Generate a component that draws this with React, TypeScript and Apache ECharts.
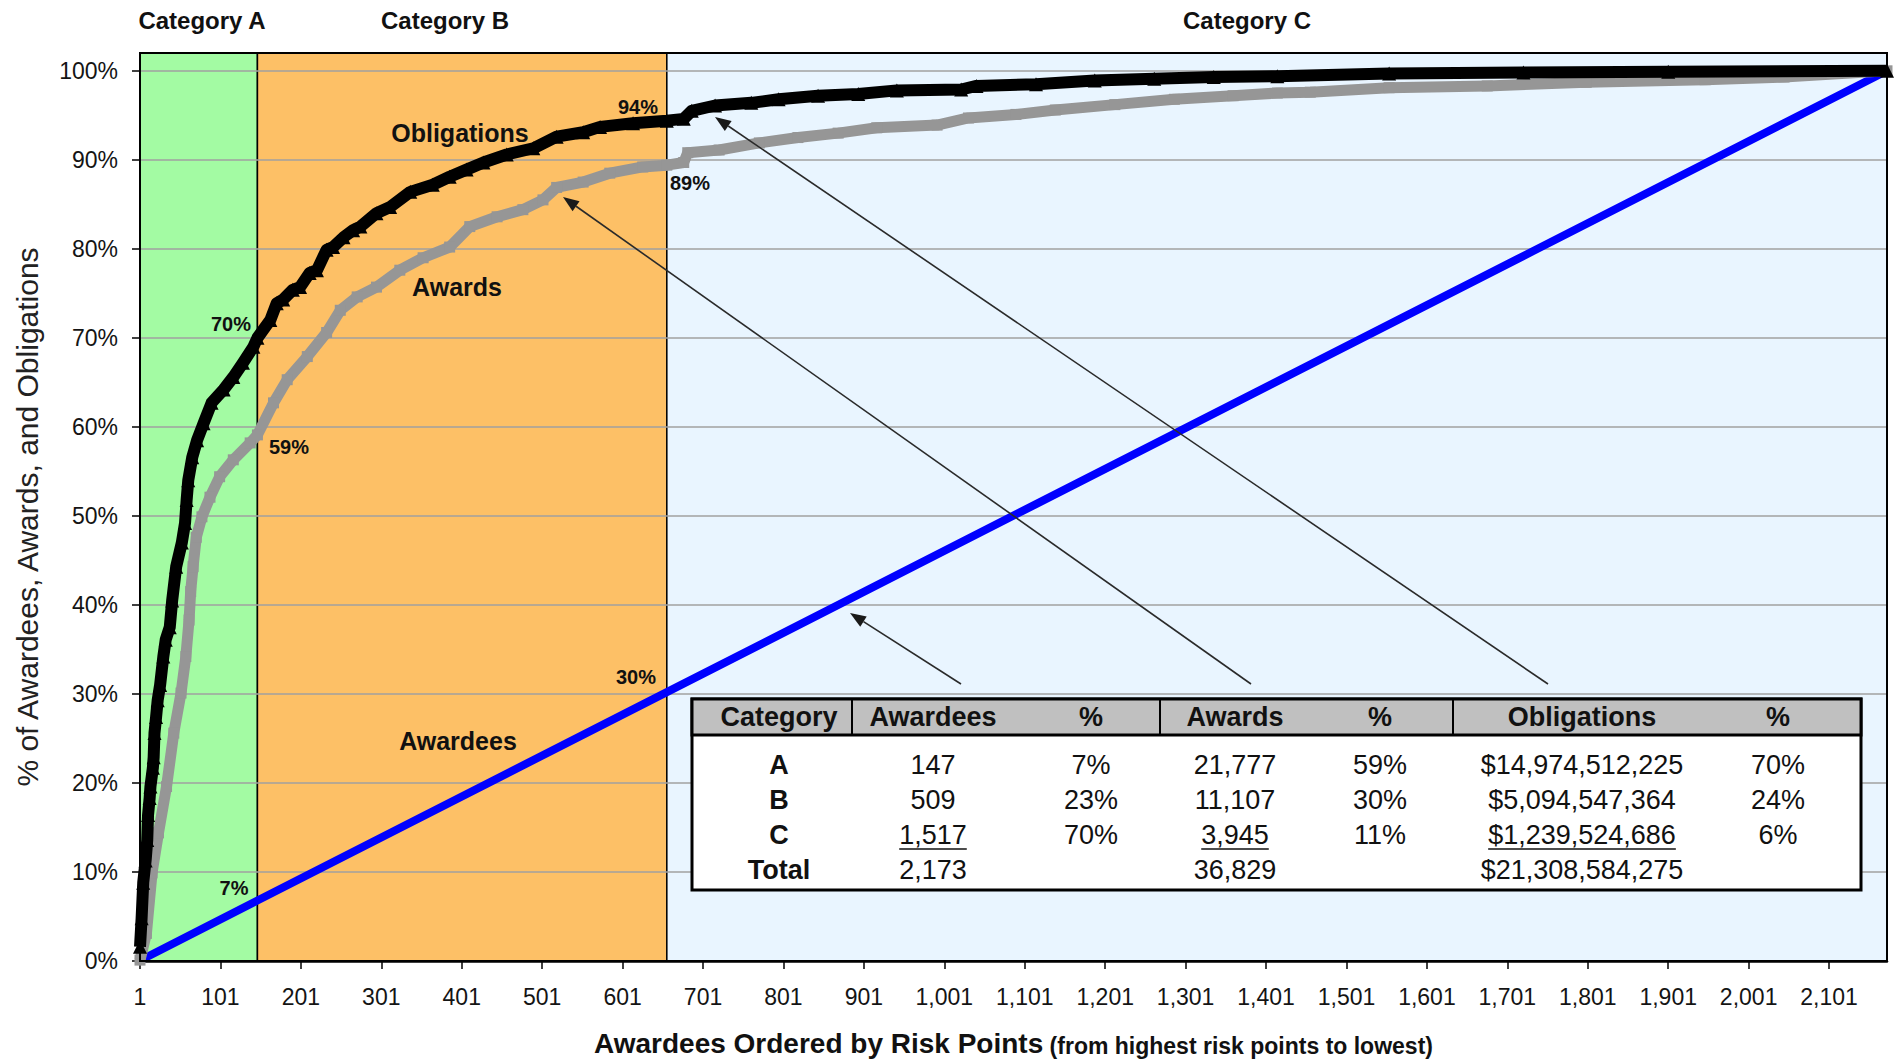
import React, { useEffect, useRef } from "react";
import * as echarts from "echarts";

const FONT = '"Liberation Sans", Arial, Helvetica, sans-serif';

// ---------------- data ----------------
const awardeeCount = 2173; // awardees ranked 1..2173
const xTickStep = 100;

const categoryLabels = ["Category A", "Category B", "Category C"];
const categoryLastRank = [147, 656, 2173];

// cumulative % of obligations by awardee rank
const obligationsRank = [1, 3, 5, 8, 10, 11, 13, 14, 17, 18, 19, 21, 23, 26, 30, 33, 38, 41, 46, 53, 57, 59, 61, 66, 72, 80, 90, 105, 117, 129, 142, 147, 163, 171, 179, 191, 200, 212, 221, 233, 241, 254, 266, 275, 295, 312, 337, 365, 386, 407, 428, 457, 490, 519, 552, 573, 614, 656, 677, 687, 716, 761, 795, 844, 894, 942, 1022, 1041, 1115, 1188, 1262, 1336, 1415, 1554, 1721, 1901, 2173];
const obligationsPct = [1.6, 4.8, 8.8, 11.3, 13.6, 16.4, 18.3, 19.6, 21.7, 22.9, 25.6, 27.4, 29.3, 31.0, 34.2, 36.1, 37.5, 40.5, 44.3, 47.0, 49.2, 51.8, 54.0, 56.6, 58.5, 60.4, 62.7, 64.2, 65.6, 67.2, 69.0, 70.0, 72.0, 73.9, 74.3, 75.4, 75.7, 77.3, 77.6, 79.9, 80.2, 81.3, 82.1, 82.5, 84.0, 84.7, 86.4, 87.2, 88.1, 88.9, 89.7, 90.6, 91.3, 92.6, 93.1, 93.7, 94.1, 94.4, 94.6, 95.5, 96.1, 96.4, 96.8, 97.2, 97.4, 97.8, 97.9, 98.3, 98.5, 98.9, 99.1, 99.3, 99.4, 99.7, 99.8, 99.9, 100];

// cumulative % of awards by awardee rank
const awardsRank = [1, 9, 16, 24, 34, 43, 52, 58, 62, 64, 67, 71, 78, 88, 100, 117, 138, 147, 167, 184, 209, 233, 250, 271, 295, 324, 353, 386, 411, 445, 477, 502, 519, 552, 585, 626, 656, 677, 682, 721, 771, 819, 869, 917, 992, 1031, 1090, 1139, 1213, 1287, 1360, 1415, 1456, 1554, 1676, 1799, 1947, 2045, 2173];
const awardsPct = [0.1, 3.1, 9.9, 14.4, 19.6, 25.6, 30.1, 34.2, 38.3, 41.5, 44.3, 47.6, 49.9, 52.1, 54.4, 56.3, 58.2, 59.1, 62.7, 65.3, 67.9, 70.6, 73.1, 74.6, 75.7, 77.6, 79.0, 80.2, 82.5, 83.6, 84.4, 85.5, 86.9, 87.5, 88.5, 89.2, 89.4, 89.7, 90.8, 91.1, 91.9, 92.5, 93.0, 93.6, 93.9, 94.7, 95.1, 95.6, 96.2, 96.8, 97.2, 97.5, 97.6, 98.1, 98.3, 98.7, 99.0, 99.3, 100];

// cumulative % of awardees (straight line)
const awardeesRank = [1, 147, 656, 2173];
const awardeesPct = [0.05, 6.8, 30.2, 100];

// summary table
const tableHeaders = ["Category", "Awardees", "%", "Awards", "%", "Obligations", "%"];
const tableRowLabels = ["A", "B", "C", "Total"];
const tableAwardees = [147, 509, 1517, 2173];
const tableAwardeesPct = [7, 23, 70];
const tableAwards = [21777, 11107, 3945, 36829];
const tableAwardsPct = [59, 30, 11];
const tableObligations = [14974512225, 5094547364, 1239524686, 21308584275];
const tableObligationsPct = [70, 24, 6];

// in-plot annotation texts
const seriesNames = ["Obligations", "Awards", "Awardees"];
const calloutTexts = ["94%", "89%", "70%", "59%", "7%", "30%"];

// ---------------- helpers ----------------
const fmt = (n: number) => n.toLocaleString("en-US");

function measure(text: string, size: number, bold = false) {
  const c = document.createElement("canvas").getContext("2d");
  if (!c) return text.length * size * 0.55;
  c.font = `${bold ? "bold " : ""}${size}px ${FONT}`;
  return c.measureText(text).width;
}

function txt(text: string, x: number, y: number, size: number, bold: boolean, align = "center") {
  return {
    type: "text",
    z: 100,
    x,
    y,
    silent: true,
    style: {
      text,
      fontSize: size,
      fontWeight: bold ? "bold" : "normal",
      fontFamily: FONT,
      fill: "#111",
      align,
      textAlign: align,
      verticalAlign: "middle",
      textVerticalAlign: "middle",
    },
  };
}

function line(x1: number, y1: number, x2: number, y2: number, w: number, color = "#000") {
  return {
    type: "line",
    z: 100,
    silent: true,
    shape: { x1, y1, x2, y2 },
    style: { stroke: color, lineWidth: w },
  };
}

function arrow(x1: number, y1: number, x2: number, y2: number) {
  const dx = x2 - x1;
  const dy = y2 - y1;
  const len = Math.hypot(dx, dy);
  const ux = dx / len;
  const uy = dy / len;
  const L = 16;
  const W = 6;
  const bx = x2 - ux * L;
  const by = y2 - uy * L;
  return [
    line(x1, y1, bx, by, 1.6, "#2a2a2a"),
    {
      type: "polygon",
      z: 100,
      silent: true,
      shape: {
        points: [
          [x2, y2],
          [bx - uy * W, by + ux * W],
          [bx + uy * W, by - ux * W],
        ],
      },
      style: { fill: "#1a1a1a" },
    },
  ];
}

function buildGraphics() {
  const els: any[] = [];
  // plot frame
  els.push({
    type: "rect",
    z: 90,
    silent: true,
    shape: { x: 140, y: 53, width: 1747, height: 908 },
    style: { fill: "none", stroke: "#000", lineWidth: 2 },
  });
  // category labels above plot
  const catX = [202, 445, 1247];
  categoryLabels.forEach((c, i) => els.push(txt(c, catX[i], 20, 24, true)));
  // series labels
  const serPos = [
    [460, 133],
    [457, 287],
    [458, 741],
  ];
  seriesNames.forEach((s, i) => els.push(txt(s, serPos[i][0], serPos[i][1], 25, true)));
  // callouts
  const calloutPos = [
    [638, 107],
    [690, 183],
    [231, 324],
    [289, 447],
    [234, 888],
    [636, 677],
  ];
  calloutTexts.forEach((c, i) => els.push(txt(c, calloutPos[i][0], calloutPos[i][1], 20, true)));

  // arrows (from table to curves)
  els.push(...arrow(961, 684, 850, 613));
  els.push(...arrow(1251, 684, 563, 197));
  els.push(...arrow(1548, 684, 715, 117));

  // table
  const tx = 692;
  const ty = 699;
  const tw = 1169;
  const th = 191;
  const hh = 36;
  els.push({
    type: "rect",
    z: 95,
    silent: true,
    shape: { x: tx, y: ty, width: tw, height: th },
    style: { fill: "#ffffff", stroke: "#000", lineWidth: 3 },
  });
  els.push({
    type: "rect",
    z: 96,
    silent: true,
    shape: { x: tx, y: ty, width: tw, height: hh },
    style: { fill: "#c0c0c0", stroke: "#000", lineWidth: 3 },
  });
  [852, 1160, 1453].forEach((sx) => els.push(line(sx, ty, sx, ty + hh, 2)));
  const colX = [779, 933, 1091, 1235, 1380, 1582, 1778];
  tableHeaders.forEach((h, i) => els.push(txt(h, colX[i], 717, 27, true)));
  const rowY = [765, 800, 835, 870];
  const fs = 27;
  tableRowLabels.forEach((r, i) => {
    const y = rowY[i];
    els.push(txt(r, colX[0], y, fs, true));
    const a = fmt(tableAwardees[i]);
    const aw = fmt(tableAwards[i]);
    const ob = "$" + fmt(tableObligations[i]);
    els.push(txt(a, colX[1], y, fs, false));
    els.push(txt(aw, colX[3], y, fs, false));
    els.push(txt(ob, colX[5], y, fs, false));
    if (i < 3) {
      els.push(txt(tableAwardeesPct[i] + "%", colX[2], y, fs, false));
      els.push(txt(tableAwardsPct[i] + "%", colX[4], y, fs, false));
      els.push(txt(tableObligationsPct[i] + "%", colX[6], y, fs, false));
    }
    if (i === 2) {
      [
        [a, colX[1]],
        [aw, colX[3]],
        [ob, colX[5]],
      ].forEach(([t, cx]: any) => {
        const w = measure(t, fs);
        els.push(line(cx - w / 2, y + 14, cx + w / 2, y + 14, 1.5, "#111"));
      });
    }
  });
  return els;
}

function buildOption(): any {
  const toPts = (ranks: number[], pcts: number[]) => ranks.map((r, i) => [r - 1, pcts[i]]);
  const regionColors = ["#a3fba3", "#fdc066", "#e9f5ff"];
  const areas = categoryLastRank.map((last, i) => {
    const first = i === 0 ? 1 : categoryLastRank[i - 1];
    return [
      { xAxis: first - 1, itemStyle: { color: regionColors[i] } },
      { xAxis: last - 1 },
    ];
  });
  const labelStyle = { fontSize: 23, fontFamily: FONT, color: "#141414" };
  return {
    animation: false,
    backgroundColor: "#ffffff",
    grid: {
      left: 140,
      right: 9,
      top: 53,
      bottom: 101,
      containLabel: false,
      outerBoundsMode: "none",
    },
    xAxis: {
      type: "value",
      min: 0,
      max: awardeeCount - 1,
      interval: xTickStep,
      z: 2,
      axisLine: { show: true, onZero: false, lineStyle: { color: "#000", width: 2.5 } },
      axisTick: { show: true, length: 8, lineStyle: { color: "#000", width: 1.5 } },
      axisLabel: {
        ...labelStyle,
        margin: 24,
        showMaxLabel: false,
        formatter: (v: number) => fmt(v + 1),
      },
      splitLine: { show: false },
      name: "{a|Awardees Ordered by Risk Points}{b| (from highest risk points to lowest)}",
      nameLocation: "middle",
      nameGap: 68,
      nameTextStyle: {
        rich: {
          a: { fontSize: 28, fontWeight: "bold", fontFamily: FONT, color: "#111", verticalAlign: "bottom", lineHeight: 28 },
          b: { fontSize: 23, fontWeight: "bold", fontFamily: FONT, color: "#111", verticalAlign: "bottom", lineHeight: 28 },
        },
      },
    },
    yAxis: {
      type: "value",
      min: 0,
      max: 102,
      interval: 10,
      z: 2,
      axisLine: { show: true, onZero: false, lineStyle: { color: "#000", width: 2 } },
      axisTick: { show: true, length: 8, lineStyle: { color: "#000", width: 1.5 } },
      axisLabel: {
        ...labelStyle,
        margin: 22,
        showMaxLabel: false,
        formatter: (v: number) => (v > 100 ? "" : `${v}%`),
      },
      splitLine: { show: true, lineStyle: { color: "#a0a0a0", width: 1.5 } },
      name: "% of Awardees, Awards, and Obligations",
      nameLocation: "middle",
      nameGap: 98,
      nameTextStyle: { fontSize: 30, fontFamily: FONT, color: "#222", padding: [0, 20, 0, 0] },
    },
    series: [
      {
        type: "line",
        name: "regions",
        data: [[0, 0]],
        symbol: "none",
        lineStyle: { opacity: 0, width: 0 },
        silent: true,
        z: 1,
        markArea: {
          silent: true,
          z: 1,
          itemStyle: { borderColor: "#000", borderWidth: 1.5 },
          data: areas,
        },
      },
      {
        type: "line",
        name: "Awardees",
        data: toPts(awardeesRank, awardeesPct),
        symbol: "none",
        lineStyle: { color: "#0000ff", width: 8 },
        z: 5,
      },
      {
        type: "line",
        name: "Awards",
        data: toPts(awardsRank, awardsPct),
        symbol: "rect",
        symbolSize: 11,
        showAllSymbol: true,
        itemStyle: { color: "#969696" },
        lineStyle: { color: "#969696", width: 11, join: "round" },
        z: 6,
      },
      {
        type: "line",
        name: "Obligations",
        data: toPts(obligationsRank, obligationsPct),
        symbol: "triangle",
        symbolSize: 14,
        showAllSymbol: true,
        itemStyle: { color: "#000" },
        lineStyle: { color: "#000", width: 12, join: "round" },
        z: 7,
      },
    ],
    graphic: { elements: buildGraphics() },
  };
}

export default function App() {
  const ref = useRef<HTMLDivElement>(null);
  useEffect(() => {
    if (!ref.current) return;
    const chart = echarts.init(ref.current, null, { renderer: "svg" });
    chart.setOption(buildOption());
    return () => chart.dispose();
  }, []);
  return (
    <div
      ref={ref}
      style={{ position: "absolute", left: 0, top: 0, width: 1896, height: 1062, background: "#fff" }}
    />
  );
}
